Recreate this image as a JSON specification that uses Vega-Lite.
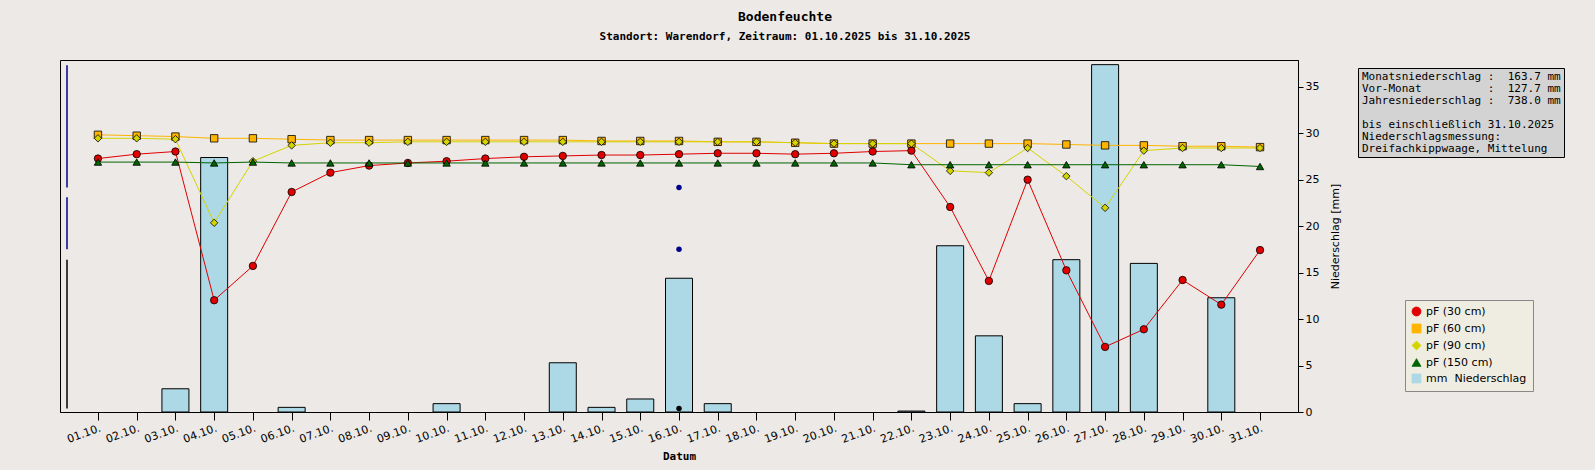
{
  "$schema": "https://vega.github.io/schema/vega-lite/v6.json",
  "autosize": "none",
  "width": 1238,
  "height": 352,
  "padding": {"left": 60, "top": 60, "right": 297, "bottom": 58},
  "background": "#ece9e6",
  "title": {
    "text": "Bodenfeuchte",
    "subtitle": "Standort: Warendorf, Zeitraum: 01.10.2025 bis 31.10.2025",
    "font": "DejaVu Sans Mono", "fontSize": 13, "fontWeight": "bold",
    "subtitleFont": "DejaVu Sans Mono", "subtitleFontSize": 11, "subtitleFontWeight": "bold",
    "subtitlePadding": 7, "anchor": "middle", "dx": 106, "offset": 18, "color": "#000"
  },
  "datasets": {
    "days": [
      {"day": "01.10.", "p30": 2.88, "p60": 3.15, "p90": 3.11, "p150": 2.84, "mm": 0},
      {"day": "02.10.", "p30": 2.93, "p60": 3.14, "p90": 3.11, "p150": 2.84, "mm": 0},
      {"day": "03.10.", "p30": 2.96, "p60": 3.13, "p90": 3.10, "p150": 2.84, "mm": 2.5},
      {"day": "04.10.", "p30": 1.27, "p60": 3.11, "p90": 2.15, "p150": 2.83, "mm": 27.4},
      {"day": "05.10.", "p30": 1.66, "p60": 3.11, "p90": 2.85, "p150": 2.84, "mm": 0},
      {"day": "06.10.", "p30": 2.50, "p60": 3.10, "p90": 3.03, "p150": 2.83, "mm": 0.5},
      {"day": "07.10.", "p30": 2.72, "p60": 3.09, "p90": 3.06, "p150": 2.83, "mm": 0},
      {"day": "08.10.", "p30": 2.80, "p60": 3.09, "p90": 3.06, "p150": 2.83, "mm": 0},
      {"day": "09.10.", "p30": 2.83, "p60": 3.09, "p90": 3.07, "p150": 2.83, "mm": 0},
      {"day": "10.10.", "p30": 2.85, "p60": 3.09, "p90": 3.07, "p150": 2.83, "mm": 0.9},
      {"day": "11.10.", "p30": 2.88, "p60": 3.09, "p90": 3.07, "p150": 2.83, "mm": 0},
      {"day": "12.10.", "p30": 2.90, "p60": 3.09, "p90": 3.07, "p150": 2.83, "mm": 0},
      {"day": "13.10.", "p30": 2.91, "p60": 3.09, "p90": 3.07, "p150": 2.83, "mm": 5.3},
      {"day": "14.10.", "p30": 2.92, "p60": 3.08, "p90": 3.07, "p150": 2.83, "mm": 0.5},
      {"day": "15.10.", "p30": 2.92, "p60": 3.08, "p90": 3.07, "p150": 2.83, "mm": 1.4},
      {"day": "16.10.", "p30": 2.93, "p60": 3.08, "p90": 3.07, "p150": 2.83, "mm": 14.4},
      {"day": "17.10.", "p30": 2.94, "p60": 3.07, "p90": 3.07, "p150": 2.83, "mm": 0.9},
      {"day": "18.10.", "p30": 2.94, "p60": 3.07, "p90": 3.07, "p150": 2.83, "mm": 0},
      {"day": "19.10.", "p30": 2.93, "p60": 3.06, "p90": 3.06, "p150": 2.83, "mm": 0},
      {"day": "20.10.", "p30": 2.94, "p60": 3.05, "p90": 3.05, "p150": 2.83, "mm": 0},
      {"day": "21.10.", "p30": 2.96, "p60": 3.05, "p90": 3.05, "p150": 2.83, "mm": 0},
      {"day": "22.10.", "p30": 2.97, "p60": 3.05, "p90": 3.05, "p150": 2.81, "mm": 0.1},
      {"day": "23.10.", "p30": 2.33, "p60": 3.05, "p90": 2.74, "p150": 2.81, "mm": 17.9},
      {"day": "24.10.", "p30": 1.49, "p60": 3.05, "p90": 2.72, "p150": 2.81, "mm": 8.2},
      {"day": "25.10.", "p30": 2.64, "p60": 3.05, "p90": 3.00, "p150": 2.81, "mm": 0.9},
      {"day": "26.10.", "p30": 1.61, "p60": 3.04, "p90": 2.68, "p150": 2.81, "mm": 16.4},
      {"day": "27.10.", "p30": 0.74, "p60": 3.03, "p90": 2.32, "p150": 2.81, "mm": 37.4},
      {"day": "28.10.", "p30": 0.94, "p60": 3.03, "p90": 2.97, "p150": 2.81, "mm": 16.0},
      {"day": "29.10.", "p30": 1.50, "p60": 3.02, "p90": 3.00, "p150": 2.81, "mm": 0},
      {"day": "30.10.", "p30": 1.22, "p60": 3.02, "p90": 3.00, "p150": 2.81, "mm": 12.3},
      {"day": "31.10.", "p30": 1.84, "p60": 3.01, "p90": 3.00, "p150": 2.79, "mm": 0}
    ],
    "ranges": [
      {"label": "trocken", "y": 2.55, "y2": 3.94, "c": "#00008b", "ty": 3.3},
      {"label": "feucht", "y": 1.85, "y2": 2.44, "c": "#00008b", "ty": 2.2},
      {"label": "nass", "y": 0.04, "y2": 1.73, "c": "#000000", "ty": 0.9}
    ],
    "info": [
      {"line": "Monatsniederschlag :  163.7 mm"},
      {"line": "Vor-Monat          :  127.7 mm"},
      {"line": "Jahresniederschlag :  738.0 mm"},
      {"line": " "},
      {"line": "bis einschließlich 31.10.2025"},
      {"line": "Niederschlagsmessung:"},
      {"line": "  Dreifachkippwaage, Mittelung"}
    ]
  },
  "data": {"name": "days"},
  "layer": [
    {
      "transform": [{"fold": ["mm"], "as": ["key", "val"]}, {"filter": "datum.val > 0"}],
      "mark": {"type": "bar", "size": 27, "stroke": "#000", "strokeWidth": 1},
      "encoding": {
        "x": {"field": "day", "type": "ordinal", "scale": {"type": "point", "padding": 0.98},
          "axis": {"title": "Datum", "titleFont": "DejaVu Sans Mono", "titleFontWeight": "bold", "titleFontSize": 11,
            "labelAngle": -20, "labelAlign": "right", "labelBaseline": "top", "labelFont": "DejaVu Sans", "labelFontSize": 11,
            "labelColor": "#000", "domainColor": "#000", "tickColor": "#000", "tickSize": 8, "titlePadding": 6}},
        "y": {"field": "val", "type": "quantitative", "scale": {"domain": [0, 37.9], "nice": false},
          "axis": {"orient": "right", "title": "Niederschlag [mm]", "titleFont": "DejaVu Sans", "titleFontWeight": "normal",
            "titleFontSize": 11, "titleAngle": 270, "values": [0, 5, 10, 15, 20, 25, 30, 35], "grid": false, "labelFont": "DejaVu Sans",
            "labelFontSize": 11, "labelColor": "#000", "domainColor": "#000", "tickColor": "#000", "titlePadding": 22}},
        "color": {"field": "key", "type": "nominal"}
      }
    },
    {
      "layer": [
        {
          "transform": [{"fold": ["p30", "p60", "p90", "p150"], "as": ["key", "pf"]}],
          "mark": {"type": "line", "strokeWidth": 1},
          "encoding": {
            "x": {"field": "day", "type": "ordinal"},
            "y": {"field": "pf", "type": "quantitative", "scale": {"domain": [0, 4], "nice": false},
              "axis": {"title": "pF-Wert", "titleFont": "DejaVu Sans Mono", "titleFontWeight": "bold", "titleFontSize": 11,
                "values": [0, 0.5, 1, 1.5, 2, 2.5, 3, 3.5, 4], "format": ".1f", "gridColor": "#cccccc",
                "labelFont": "DejaVu Sans", "labelFontSize": 11, "labelColor": "#000", "domainColor": "#000",
                "tickColor": "#000", "titlePadding": 14}},
            "color": {"field": "key", "type": "nominal"},
            "detail": {"field": "key"}
          }
        },
        {
          "transform": [{"fold": ["p30", "p60", "p90", "p150"], "as": ["key", "pf"]}],
          "mark": {"type": "point", "filled": true, "size": 55, "stroke": "#000", "strokeWidth": 0.8, "opacity": 1},
          "encoding": {
            "x": {"field": "day", "type": "ordinal"},
            "y": {"field": "pf", "type": "quantitative", "axis": null},
            "color": {"field": "key", "type": "nominal"},
            "shape": {"field": "key", "type": "nominal"}
          }
        },
        {"data": {"name": "ranges"}, "mark": {"type": "rule", "strokeWidth": 1.5, "x": 7},
          "encoding": {"y": {"field": "y", "type": "quantitative", "axis": null}, "y2": {"field": "y2"}, "color": {"field": "c", "type": "nominal", "scale": null, "legend": null}}},
        {"data": {"name": "ranges"}, "mark": {"type": "point", "shape": "triangle-up", "filled": true, "size": 30, "x": 7, "color": "#00008b", "opacity": 1},
          "encoding": {"y": {"field": "y2", "type": "quantitative", "axis": null}}},
        {"data": {"name": "ranges"}, "mark": {"type": "point", "shape": "triangle-down", "filled": true, "size": 30, "x": 7, "color": "#00008b", "opacity": 1},
          "encoding": {"y": {"field": "y", "type": "quantitative", "axis": null}}},
        {"data": {"name": "ranges"}, "mark": {"type": "text", "angle": 270, "x": 16, "font": "DejaVu Sans", "fontSize": 10, "baseline": "middle", "align": "center", "color": "#000"},
          "encoding": {"y": {"field": "ty", "type": "quantitative", "axis": null}, "text": {"field": "label"}}}
      ]
    },
    {
      "data": {"name": "info"},
      "mark": {"type": "point", "opacity": 0},
      "encoding": {
        "strokeDash": {"field": "line", "type": "nominal",
          "scale": {"domain": ["Monatsniederschlag :  163.7 mm", "Vor-Monat          :  127.7 mm", "Jahresniederschlag :  738.0 mm", " ", "bis einschließlich 31.10.2025", "Niederschlagsmessung:", "  Dreifachkippwaage, Mittelung"]},
          "legend": {"orient": "none", "legendX": 1298, "legendY": 8, "title": null, "symbolOpacity": 0, "symbolSize": 0,
            "symbolStrokeWidth": 0, "symbolOffset": -14, "labelFont": "DejaVu Sans Mono", "labelFontSize": 11, "labelColor": "#000",
            "labelExpr": "replace(replace(datum.label, /  /g, '\u00a0\u00a0'), /^ /, '\u00a0')",
            "rowPadding": 0, "fillColor": "#d3d3d3", "strokeColor": "#000", "padding": 3, "labelLimit": 300}}
      }
    },
    {
      "data": {"values": [{"t": "(c) 2025 Geologischer Dienst Nordrhein-Westfalen"}]},
      "mark": {"type": "text", "x": 1476, "y": 386, "align": "right", "font": "DejaVu Sans Mono", "fontSize": 10, "color": "#000"},
      "encoding": {"text": {"field": "t"}}
    }
  ],
  "resolve": {"scale": {"y": "independent"}},
  "encoding": {
    "color": {"field": "key", "type": "nominal",
      "scale": {"domain": ["p30", "p60", "p90", "p150", "mm"], "range": ["#e00000", "#ffb400", "#d4d400", "#006400", "#add8e6"]},
      "legend": {"orient": "none", "legendX": 1345, "legendY": 240, "title": null, "fillColor": "#efede2", "strokeColor": "#888",
        "padding": 6, "labelFont": "DejaVu Sans", "labelFontSize": 11, "labelColor": "#000", "symbolStrokeColor": "#000",
        "symbolStrokeWidth": 0.8, "rowPadding": 4, "symbolSize": 80,
        "labelExpr": "datum.label == 'p30' ? 'pF (30 cm)' : datum.label == 'p60' ? 'pF (60 cm)' : datum.label == 'p90' ? 'pF (90 cm)' : datum.label == 'p150' ? 'pF (150 cm)' : 'mm\u00a0\u00a0Niederschlag'"}},
    "shape": {"field": "key", "type": "nominal",
      "scale": {"domain": ["p30", "p60", "p90", "p150", "mm"], "range": ["circle", "square", "diamond", "triangle-up", "square"]}}
  },
  "config": {
    "view": {"fill": "white", "stroke": "#000"},
    "legend": {"symbolType": "square"}
  }
}
